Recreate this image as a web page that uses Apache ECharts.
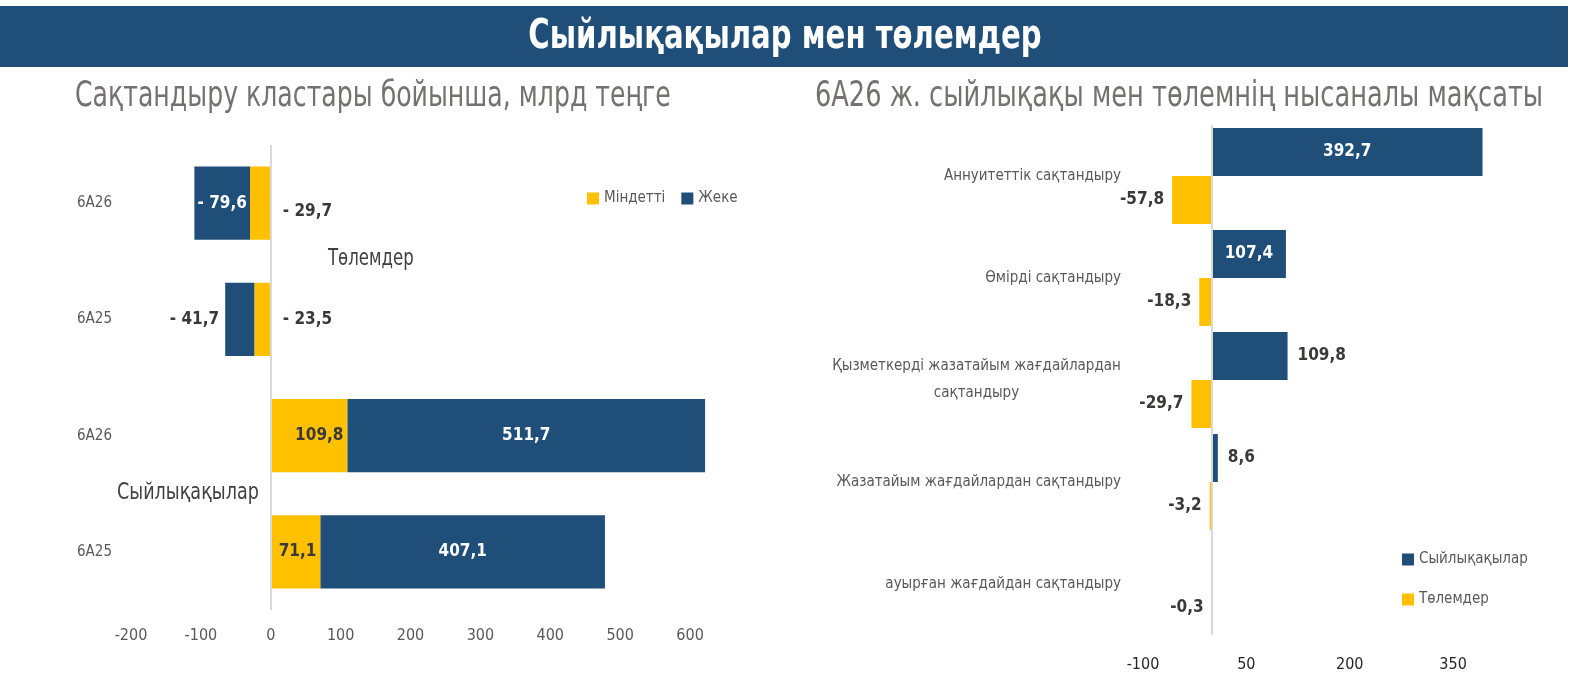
<!DOCTYPE html>
<html>
<head>
<meta charset="utf-8">
<script src="https://cdn.jsdelivr.net/npm/echarts@6/dist/echarts.min.js"></script>
<style>
  html, body { margin: 0; padding: 0; background: #fff; }
  #chart { width: 1572px; height: 690px; }
</style>
</head>
<body>
<div id="chart"></div>
<script>
// left chart: by insurance cluster, bn tenge
const clusterCats = ['6А26', '6А25', '6А26', '6А25']
const mindetti = [-29.7, -23.5, 109.8, 71.1]
const zheke = [-79.6, -41.7, 511.7, 407.1]
const leftTicks = [-200, -100, 0, 100, 200, 300, 400, 500, 600]

// right chart: purpose of premiums and payments, 6A26
const purposeCats = [
  'Аннуитеттік сақтандыру',
  'Өмірді сақтандыру',
  'Қызметкерді жазатайым жағдайлардан\nсақтандыру',
  'Жазатайым жағдайлардан сақтандыру',
  'ауырған жағдайдан сақтандыру'
]
const premiums = [392.7, 107.4, 109.8, 8.6, 1.0]
const payments = [-57.8, -18.3, -29.7, -3.2, -0.3]
const rightTicks = [-100, 50, 200, 350]

const BLUE = '#1F4E79'
const YELLOW = '#FFC000'
const DARK = '#3B3838'
const GREY = '#595959'
const FONT = '"DejaVu Sans Condensed", "Liberation Sans Narrow", sans-serif'

const comma = v => String(v).replace('.', ',')
const fmtLeft = v => (v < 0 ? '- ' + comma(Math.abs(v).toFixed(1)) : comma(v.toFixed(1)))
const fmtRight = v => comma(v.toFixed(1))

const lbl = (position, color, extra) => Object.assign({
  show: true, position: position, color: color, fontFamily: FONT,
  fontWeight: 'bold', fontSize: 17, distance: 10
}, extra || {})

// label placement per bar
const mindettiLabels = [
  lbl('right', DARK, { offset: [0, 8], distance: 12 }),
  lbl('right', DARK, { distance: 12 }),
  lbl('insideRight', DARK, { distance: 4 }),
  lbl('insideRight', DARK, { distance: 4 })
]
const zhekeLabels = [
  lbl('inside', '#fff'),
  lbl('left', DARK, { distance: 6 }),
  lbl('inside', '#fff'),
  lbl('inside', '#fff')
]
const premiumLabels = [
  lbl('inside', '#fff'),
  lbl('inside', '#fff'),
  lbl('right', DARK, { distance: 10 }),
  lbl('right', DARK, { distance: 10 }),
  { show: false }
]
const paymentLabels = payments.map(() => lbl('left', DARK, { distance: 8 }))

// width of the longest line so the wrapped category stays centred as a block
const measure = (() => {
  const ctx = document.createElement('canvas').getContext('2d')
  ctx.font = '15px ' + FONT
  return s => Math.ceil(ctx.measureText(s).width)
})()
const twoLineWidth = measure('Қызметкерді жазатайым жағдайлардан')

const zeroLine = {
  silent: true, symbol: 'none', label: { show: false },
  lineStyle: { color: '#D9D9D9', type: 'solid', width: 2 },
  data: [{ xAxis: 0 }]
}

const chart = echarts.init(document.getElementById('chart'))

const option = {
  animation: false,
  textStyle: { fontFamily: FONT },
  graphic: [
    { type: 'rect', shape: { x: 0, y: 6, width: 1568, height: 61 }, style: { fill: BLUE }, z: 0 },
    {
      type: 'text', x: 785, y: 38, z: 1, scaleX: 0.81,
      style: { text: 'Сыйлықақылар мен төлемдер', fill: '#fff', font: 'bold 40px ' + FONT, align: 'center', verticalAlign: 'middle' }
    },
    {
      type: 'text', x: 75, y: 97, scaleX: 0.8,
      style: { text: 'Сақтандыру кластары бойынша, млрд теңге', fill: '#767171', font: '35px ' + FONT, align: 'left', verticalAlign: 'middle' }
    },
    {
      type: 'text', x: 815, y: 97, scaleX: 0.815,
      style: { text: '6А26 ж. сыйлықақы мен төлемнің нысаналы мақсаты', fill: '#767171', font: '35px ' + FONT, align: 'left', verticalAlign: 'middle' }
    },
    {
      type: 'text', x: 328, y: 259, scaleX: 0.8,
      style: { text: 'Төлемдер', fill: '#404040', font: '23px ' + FONT, align: 'left', verticalAlign: 'middle' }
    },
    {
      type: 'text', x: 117, y: 493, scaleX: 0.85,
      style: { text: 'Сыйлықақылар', fill: '#404040', font: '23px ' + FONT, align: 'left', verticalAlign: 'middle' }
    }
  ],
  legend: [
    {
      left: 582, top: 186, orient: 'horizontal', itemGap: 16,
      itemWidth: 12, itemHeight: 12, icon: 'rect',
      textStyle: { color: GREY, fontSize: 15, fontFamily: FONT },
      data: ['Міндетті', 'Жеке']
    },
    {
      left: 1397, top: 547, orient: 'vertical', itemGap: 25,
      itemWidth: 12, itemHeight: 12, icon: 'rect',
      textStyle: { color: GREY, fontSize: 15, fontFamily: FONT },
      data: ['Сыйлықақылар', 'Төлемдер']
    }
  ],
  grid: [
    { left: 131, top: 145, width: 594, height: 465 },
    { left: 1143, top: 125, width: 379, height: 510 }
  ],
  xAxis: [
    {
      gridIndex: 0, type: 'value', min: -200, max: 650, interval: 100,
      axisLine: { show: false }, axisTick: { show: false }, splitLine: { show: false },
      axisLabel: {
        color: GREY, fontSize: 16, margin: 18,
        formatter: v => (leftTicks.indexOf(v) >= 0 ? String(v) : '')
      }
    },
    {
      gridIndex: 1, type: 'value', min: -100, max: 450, interval: 150,
      axisLine: { show: false }, axisTick: { show: false }, splitLine: { show: false },
      axisLabel: {
        color: '#262626', fontSize: 16, margin: 22,
        formatter: v => (rightTicks.indexOf(v) >= 0 ? String(v) : '')
      }
    }
  ],
  yAxis: [
    {
      gridIndex: 0, type: 'category', inverse: true, data: clusterCats,
      axisLine: { show: false }, axisTick: { show: false },
      axisLabel: { color: GREY, fontSize: 15, margin: 19 }
    },
    {
      gridIndex: 1, type: 'category', inverse: true, data: purposeCats,
      axisLine: { show: false }, axisTick: { show: false },
      axisLabel: {
        color: GREY, fontSize: 15, margin: 22, lineHeight: 27,
        formatter: v => {
          const lines = v.split('\n')
          if (lines.length === 1) return v
          return lines.map(l => '{c|' + l + '}').join('\n')
        },
        rich: { c: { width: twoLineWidth, align: 'center', color: GREY, fontSize: 15, lineHeight: 27, fontFamily: FONT } }
      }
    }
  ],
  series: [
    {
      name: 'Міндетті', type: 'bar', stack: 'left', xAxisIndex: 0, yAxisIndex: 0,
      barCategoryGap: '37%', itemStyle: { color: YELLOW },
      data: mindetti.map((v, i) => ({ value: v, label: Object.assign({ formatter: p => fmtLeft(p.value) }, mindettiLabels[i]) })),
      markLine: zeroLine
    },
    {
      name: 'Жеке', type: 'bar', stack: 'left', xAxisIndex: 0, yAxisIndex: 0,
      barCategoryGap: '37%', itemStyle: { color: BLUE },
      data: zheke.map((v, i) => ({ value: v, label: Object.assign({ formatter: p => fmtLeft(p.value) }, zhekeLabels[i]) }))
    },
    {
      name: 'Сыйлықақылар', type: 'bar', xAxisIndex: 1, yAxisIndex: 1,
      barGap: '0%', barCategoryGap: '6%', itemStyle: { color: BLUE },
      data: premiums.map((v, i) => ({ value: v, label: Object.assign({ formatter: p => fmtRight(p.value) }, premiumLabels[i]) })),
      markLine: zeroLine
    },
    {
      name: 'Төлемдер', type: 'bar', xAxisIndex: 1, yAxisIndex: 1,
      barGap: '0%', barCategoryGap: '6%', itemStyle: { color: YELLOW },
      data: payments.map((v, i) => ({ value: v, label: Object.assign({ formatter: p => fmtRight(p.value) }, paymentLabels[i]) }))
    }
  ]
}

chart.setOption(option)
window.onresize = chart.resize
</script>
</body>
</html>
